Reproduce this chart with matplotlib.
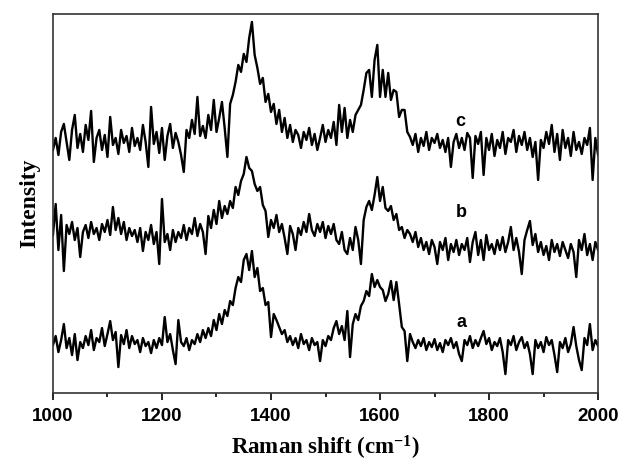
import numpy as np
import matplotlib
matplotlib.use("Agg")
import matplotlib.pyplot as plt
from matplotlib.ticker import MultipleLocator

plt.rcParams["mathtext.fontset"] = "custom"
plt.rcParams["mathtext.rm"] = "Liberation Serif:bold"
plt.rcParams["mathtext.it"] = "Liberation Serif:bold"
plt.rcParams["mathtext.bf"] = "Liberation Serif:bold"

# Raman spectra (arbitrary intensity units, offset traces)
spec_c = [250,262,245,268,276,258,240,270,285,252,266,248,275,260,289,238,262,270,250,265,
          243,283,255,262,246,270,257,264,248,272,254,262,250,275,258,233,293,256,268,247,
          272,240,264,276,252,267,258,245,228,270,262,280,266,303,264,274,262,285,270,300,
          268,282,298,272,243,296,305,318,335,328,346,338,362,378,345,332,316,322,298,306,
          288,296,276,290,268,282,262,275,258,270,265,252,268,260,272,255,266,250,262,275,
          258,270,262,278,255,295,268,292,262,280,268,285,290,295,310,327,330,303,340,355,
          303,330,303,327,300,310,308,283,290,290,268,263,255,266,248,262,254,268,250,262,
          257,266,252,260,248,262,233,258,266,252,262,250,267,262,222,264,256,268,225,262,
          250,266,244,260,252,268,246,262,258,270,248,264,255,268,250,262,243,258,220,260,
          252,268,256,275,248,266,240,270,252,262,244,268,250,258,246,262,255,272,220,262,
          245]
spec_b = [165,196,150,185,129,175,166,178,160,172,143,168,175,162,178,166,172,160,176,168,
          180,165,193,170,182,166,178,160,172,164,170,158,172,149,168,160,175,156,168,136,
          201,158,166,150,170,158,168,162,175,160,172,166,182,164,176,168,146,184,172,190,
          176,199,182,194,186,199,192,213,205,219,226,243,232,229,216,209,213,195,189,163,
          180,172,185,168,176,162,146,174,166,150,172,165,178,168,186,170,164,176,168,178,
          162,174,166,176,160,156,168,150,146,162,150,173,160,136,180,193,199,190,205,223,
          199,213,192,189,194,180,186,170,173,162,170,166,158,168,153,162,150,158,146,160,
          153,136,158,150,162,140,156,148,160,145,156,150,162,138,158,168,145,160,140,165,
          150,156,146,160,150,163,148,158,173,150,162,148,126,160,170,179,155,166,148,158,
          145,154,140,160,148,156,144,158,150,142,156,148,123,160,150,166,145,156,140,158,
          150]
spec_a = [55,64,48,60,76,52,62,45,66,40,58,52,64,55,70,50,62,58,72,54,
          66,79,60,68,33,65,56,70,52,64,56,60,48,62,54,58,47,60,52,62,
          55,83,58,66,50,36,80,58,54,62,50,60,56,66,58,70,62,72,64,80,
          70,86,76,90,84,99,95,112,123,118,140,146,130,149,123,132,109,112,95,98,
          63,86,80,73,66,70,58,64,55,62,52,66,56,60,50,62,55,58,39,60,
          54,64,60,72,79,66,74,60,89,43,76,86,80,94,99,109,104,126,113,120,
          113,110,99,106,119,100,118,96,73,69,39,66,58,52,60,54,62,50,58,53,
          61,50,57,48,60,55,62,52,58,46,39,60,55,64,52,60,54,62,69,56,
          62,50,58,54,62,48,26,60,55,64,50,58,63,52,58,46,26,60,52,58,
          48,63,55,60,45,28,58,52,62,48,56,73,54,40,30,62,55,76,50,60,
          54]
series_labels = ["a", "b", "c"]
label_pos_x = [1750, 1750, 1748]
label_pos_y = [78, 187, 278]
xticks = [1000, 1200, 1400, 1600, 1800, 2000]

fig = plt.figure(figsize=(6.23, 4.63), dpi=100)
ax = fig.add_axes([0.085, 0.151, 0.875, 0.819])

for spec in (spec_a, spec_b, spec_c):
    x = np.linspace(1000, 2000, len(spec))
    ax.plot(x, spec, color="black", lw=1.7)

for lab, lx, ly in zip(series_labels, label_pos_x, label_pos_y):
    ax.text(lx, ly, lab, fontsize=13, fontweight="bold", family="Liberation Sans",
            ha="center", va="center")

ax.set_xlim(1000, 2000)
ax.set_ylim(7, 386)
ax.set_xticks(xticks)
ax.xaxis.set_minor_locator(MultipleLocator(100))
ax.set_yticks([])
ax.tick_params(axis="x", which="major", direction="out", length=5, width=1.2, pad=6)
ax.tick_params(axis="x", which="minor", direction="out", length=3, width=1.2)
for lbl in ax.get_xticklabels():
    lbl.set_fontfamily("Liberation Sans")
    lbl.set_fontweight("bold")
    lbl.set_fontsize(13.5)
for sp in ax.spines.values():
    sp.set_linewidth(1.2)
    sp.set_color("#333333")

ax.set_xlabel("Raman shift (cm$^{-1}$)", fontsize=16.5, fontweight="bold",
              family="Liberation Serif", labelpad=6)
ax.set_ylabel("Intensity", fontsize=17, fontweight="bold", family="Liberation Serif",
              labelpad=9)

fig.savefig("out.png", dpi=100)
